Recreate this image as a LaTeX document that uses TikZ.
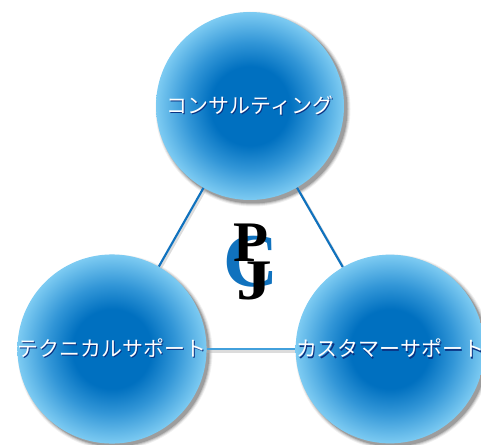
\documentclass[tikz,border=0pt]{standalone}
\usepackage{fontspec}
\setmainfont{Liberation Serif}
\newfontfamily\jpfont{Noto Sans CJK JP}
\definecolor{ballinner}{RGB}{0,112,192}
\definecolor{ballmid}{RGB}{50,150,215}
\definecolor{ballouter}{RGB}{125,203,242}
\definecolor{linkblue}{RGB}{16,114,190}
\definecolor{linklight}{RGB}{66,160,220}
\definecolor{txtshadow}{RGB}{10,50,130}
\pgfdeclareradialshading{ballshade}{\pgfpoint{0bp}{0bp}}{
  color(0bp)=(ballinner);
  color(10.5bp)=(ballinner);
  color(17bp)=(ballmid);
  color(25bp)=(ballouter);
  color(50bp)=(ballouter)}
\newcommand{\balltext}[1]{\fontsize{15.7pt}{16pt}\jpfont\rlap{\hspace{0.8pt}\raisebox{-0.9pt}{\textcolor{txtshadow}{#1}}}\textcolor{white}{#1}}
\tikzset{
  x=0.75pt,y=-0.75pt,
  ball/.style={circle,minimum size=141pt,inner sep=0pt,shading=ballshade,text=white},
  link/.style={line width=1.6pt,linkblue},
  linkb/.style={line width=2pt,linklight},
  linkshadow/.style={line width=2pt,black!30,opacity=.45},
  bigletter/.style={inner sep=0pt,font=\bfseries\fontsize{43pt}{43pt}\selectfont}
}
\begin{document}
\begin{tikzpicture}
\useasboundingbox (0,0) rectangle (481,445);
\coordinate (topc) at (250,106);
\coordinate (leftc) at (112,349);
\coordinate (rightc) at (390,349);
% soft shadows of the circles
\foreach \c in {topc,leftc,rightc}{
  \foreach \r/\o in {97.5/.06,96.5/.09,95.5/.12,94.5/.18}{
    \fill[black,opacity=\o] ([shift={(3,3)}]\c) circle[radius=\r];
  }
}
% connector shadows
\draw[linkshadow] ([shift={(1.5,2)}]topc) -- ([shift={(1.5,2)}]leftc);
\draw[linkshadow] ([shift={(1.5,2)}]topc) -- ([shift={(1.5,2)}]rightc);
\draw[linkshadow] ([shift={(0,2.5)}]leftc) -- ([shift={(0,2.5)}]rightc);
% circles
\node[ball] (cons) at (topc) {\balltext{コンサルティング}};
\node[ball] (tech) at (leftc) {\balltext{テクニカルサポート}};
\node[ball] (cust) at (rightc) {\balltext{カスタマーサポート}};
% connectors
\draw[link] (cons) -- (tech);
\draw[link] (cons) -- (cust);
\draw[linkb] (tech) -- (cust);
% letters
\node[inner sep=0pt,text=linkblue,font=\bfseries\fontsize{57pt}{57pt}\selectfont] (letterc) at (250.5,262) {C};
\node[bigletter] (letterp) at (251.5,243) {P};
\node[bigletter,xscale=1.25] (letterj) at (254,281) {J};
\end{tikzpicture}
\end{document}
